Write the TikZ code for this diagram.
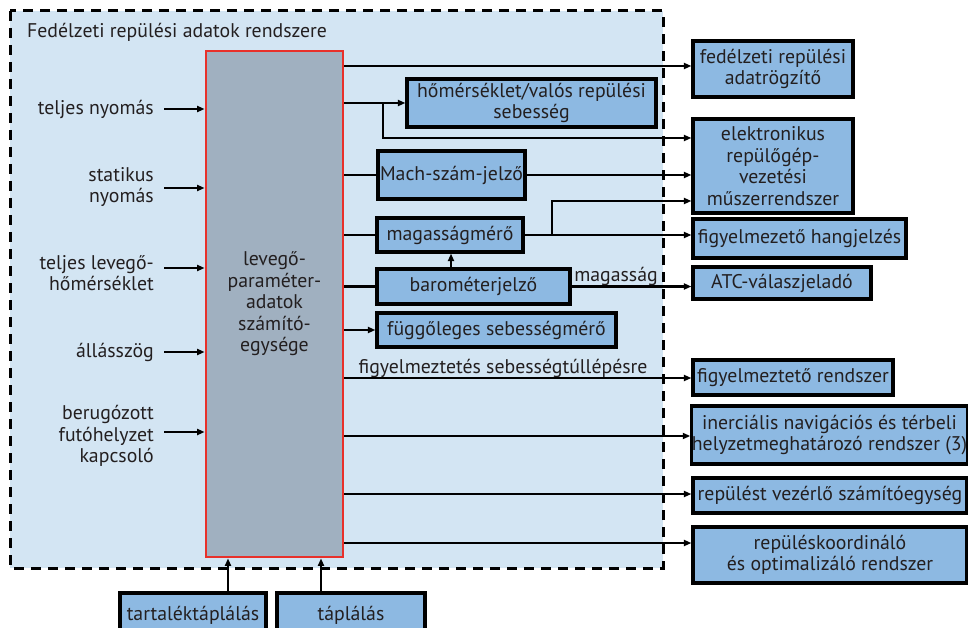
\documentclass[tikz,border=0pt]{standalone}
\usepackage{fontspec}
\setmainfont{PT Sans}
\usetikzlibrary{arrows.meta}
\definecolor{bgblue}{HTML}{D3E5F3}
\definecolor{boxblue}{HTML}{8DB9E2}
\definecolor{cpugrey}{HTML}{A0B0C0}
\definecolor{cpured}{HTML}{E8302A}
\definecolor{txt}{HTML}{231F20}
\begin{document}
\begin{tikzpicture}[x=1pt,y=-1pt,
  every node/.style={font=\fontsize{19.8}{21.5}\selectfont, text=txt},
  box/.style={draw=black, line width=3.2pt, fill=boxblue, inner sep=0pt, align=center},
  lbl/.style={align=right, anchor=east, inner sep=0pt},
  conn/.style={line width=2.2pt, draw=black},
  arr/.style={conn, -{Triangle[length=7.5pt,width=6pt]}}]
\useasboundingbox (0,0) rectangle (968,628);
\clip (0,0) rectangle (968,628);
% outer dashed system box
\draw[fill=bgblue, line width=3pt, dash pattern=on 10pt off 7pt] (10,11) rectangle (663,568);
\node[anchor=west, inner sep=0pt] (title) at (27,32) {Fedélzeti repülési adatok rendszere};
% central unit
\node[draw=cpured, fill=cpugrey, line width=2.8pt, minimum width=137pt, minimum height=506pt, align=center, inner sep=0pt] (cpu) at (274.5,304) {levegő-\\paraméter-\\adatok\\számító-\\egysége};
% inputs
\node[lbl] (tn) at (154,109) {teljes nyomás};
\node[lbl] (sn) at (154,187) {statikus\\nyomás};
\node[lbl] (tl) at (154,273) {teljes levegő-\\hőmérséklet};
\node[lbl] (al) at (154,352) {állásszög};
\node[lbl] (bf) at (154,436) {berugózott\\futóhelyzet\\kapcsoló};
\draw[arr] ([xshift=10pt]tn.east) -- (tn.east -| cpu.west);
\draw[arr] ([xshift=10pt,yshift=-1pt]sn.east) -- ([yshift=-1pt]sn.east -| cpu.west);
\draw[arr] ([xshift=10pt,yshift=5pt]tl.east) -- ([yshift=5pt]tl.east -| cpu.west);
\draw[arr] ([xshift=10pt]al.east) -- (al.east -| cpu.west);
\draw[arr] ([xshift=10pt,yshift=4pt]bf.east) -- ([yshift=4pt]bf.east -| cpu.west);
% inner boxes
\node[box, minimum width=249pt, minimum height=48pt] (ht) at (531.5,103) {hőmérséklet/valós repülési\\sebesség};
\node[box, minimum width=147pt, minimum height=48pt] (mach) at (451.5,175) {Mach-szám-jelző};
\node[box, minimum width=146pt, minimum height=34pt] (mag) at (450,235) {magasságmérő};
\node[box, minimum width=193pt, minimum height=35pt] (baro) at (473.5,286.5) {barométerjelző};
\node[box, minimum width=239pt, minimum height=34pt] (fug) at (496.5,330) {függőleges sebességmérő};
% right boxes
\node[box, minimum width=160pt, minimum height=56pt] (rec) at (773,69) {fedélzeti repülési\\adatrögzítő};
\node[box, minimum width=160pt, minimum height=94pt] (elec) at (773,166) {elektronikus\\repülőgép-\\vezetési\\műszerrendszer};
\node[box, minimum width=213pt, minimum height=39pt] (fh) at (799.5,238.5) {figyelmezető hangjelzés};
\node[box, minimum width=178pt, minimum height=32pt] (atc) at (782,283) {ATC-válaszjeladó};
\node[box, minimum width=200pt, minimum height=35pt] (fr) at (793,377.5) {figyelmeztető rendszer};
\node[box, minimum width=273pt, minimum height=58pt] (ins) at (829.5,435) {inerciális navigációs és térbeli\\helyzetmeghatározó rendszer (3)};
\node[box, minimum width=274pt, minimum height=35pt] (rv) at (830,495.5) {repülést vezérlő számítóegység};
\node[box, minimum width=274pt, minimum height=56pt] (rk) at (830,555) {repüléskoordináló\\és optimalizáló rendszer};
% bottom boxes
\node[box, minimum width=146pt, minimum height=44pt] (tt) at (193,615) {tartaléktáplálás};
\node[box, minimum width=148pt, minimum height=44pt] (tp) at (351,615) {táplálás};
% connectors
\draw[arr] (cpu.east |- 0,66) -- (rec.west |- 0,66);
\draw[arr] (cpu.east |- 0,103) -- (ht.west |- 0,103);
\coordinate (b1) at (383,103);
\draw[arr] (b1) |- (elec.west |- 0,138);
\draw[conn] (cpu.east |- mach) -- (mach.west);
\draw[arr] (mach.east) -- (elec.west |- mach);
\draw[conn] (cpu.east |- mag) -- (mag.west);
\draw[arr] (mag.east) -- (fh.west |- mag);
\coordinate (b2) at (552,235);
\draw[arr] (b2) |- (elec.west |- 0,201);
\draw[conn] (cpu.east |- baro) -- (baro.west);
\draw[arr] (baro.east) -- (atc.west |- baro);
\node[inner sep=0pt] (magl) at (616,276) {magasság};
\draw[arr] (baro.north -| 451,0) -- (mag.south -| 451,0);
\draw[arr] (cpu.east |- fug) -- (fug.west);
\node[inner sep=0pt] (figl) at (503,368) {figyelmeztetés sebességtúllépésre};
\draw[arr] (cpu.east |- 0,378) -- (fr.west |- 0,378);
\draw[arr] (cpu.east |- 0,436) -- (ins.west |- 0,436);
\draw[arr] (cpu.east |- 0,494) -- (rv.west |- 0,494);
\draw[arr] (cpu.east |- 0,543) -- (rk.west |- 0,543);
\draw[arr] (tt.north -| 228,0) -- (cpu.south -| 228,0);
\draw[arr] (tp.north -| 321,0) -- (cpu.south -| 321,0);
\end{tikzpicture}
\end{document}
